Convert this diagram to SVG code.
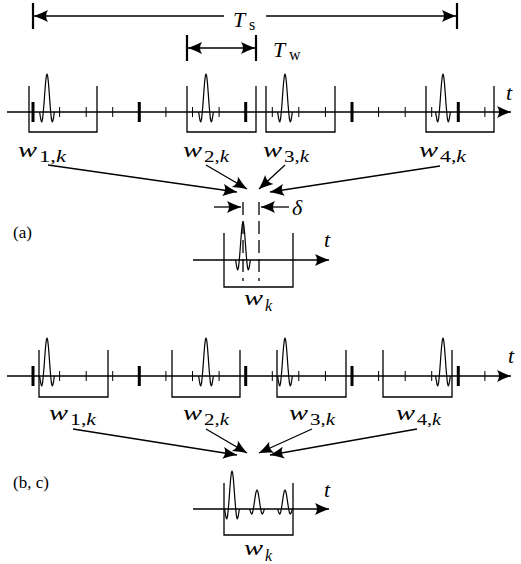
<svg xmlns="http://www.w3.org/2000/svg" width="521" height="564" viewBox="0 0 521 564">
<style>
.ln{stroke:#000;stroke-width:1.3;fill:none}
.tk{stroke:#000;stroke-width:1}
.tkb{stroke:#000;stroke-width:3}
.bar{stroke:#000;stroke-width:2.2}
.win{stroke:#000;stroke-width:1.3;fill:none}
.pl{stroke:#000;stroke-width:1.2;fill:none;stroke-linejoin:round}
.m{font-family:"Liberation Serif","DejaVu Serif",serif;font-style:italic;font-size:22px;fill:#000}
.sub{font-family:"Liberation Serif","DejaVu Serif",serif;font-size:16px;fill:#000}
.lbl{font-family:"Liberation Serif","DejaVu Serif",serif;font-size:17px;fill:#000}
.dash{stroke:#000;stroke-width:1.3;stroke-dasharray:13 6;fill:none}
</style>
<defs>
<marker id="ah" viewBox="-16 -8 18 16" markerWidth="18" markerHeight="16" refX="0" refY="0" orient="auto-start-reverse" markerUnits="userSpaceOnUse"><path d="M0,0 Q-7,-2.5 -14,-6 Q-10,0 -14,6 Q-7,2.5 0,0 Z" fill="#000"/></marker>
<path id="pulse" class="pl" d="M-7.4,0 L-6.66,4.7 L-5.92,8.6 L-5.18,9.9 L-4.44,7.1 L-3.7,0 L-2.96,-8.89 L-2.22,-19.17 L-1.48,-28.76 L-0.74,-35.55 L0,-38 L0.74,-35.55 L1.48,-28.76 L2.22,-19.17 L2.96,-8.89 L3.7,0 L4.44,7.1 L5.18,9.9 L5.92,8.6 L6.66,4.7 L7.4,0"/>
<path id="pulse-s" class="pl" d="M-7.4,0 L-6.66,2.4 L-5.92,4.3 L-5.18,5 L-4.44,3.6 L-3.7,0 L-2.96,-4.4 L-2.22,-9.6 L-1.48,-14.4 L-0.74,-17.8 L0,-19 L0.74,-17.8 L1.48,-14.4 L2.22,-9.6 L2.96,-4.4 L3.7,0 L4.44,3.6 L5.18,5 L5.92,4.3 L6.66,2.4 L7.4,0"/>
<g id="ticks">
<path class="tk" d="M59.6,-5V5M86.2,-5V5M112.7,-5V5M165.9,-5V5M192.5,-5V5M219.1,-5V5M272.3,-5V5M298.8,-5V5M325.4,-5V5M378.6,-5V5M405.2,-5V5M431.7,-5V5M484.9,-5V5"/>
<path class="tkb" d="M33,-10V10M139.3,-10V10M245.7,-10V10M352,-10V10M458.3,-10V10"/>
</g>
</defs>

<g id="dim-Ts">
<line class="bar" x1="33" y1="3" x2="33" y2="29"/>
<line class="bar" x1="457" y1="3" x2="457" y2="29"/>
<line class="ln" x1="224" y1="16" x2="34" y2="16" marker-end="url(#ah)"/>
<line class="ln" x1="266" y1="16" x2="456" y2="16" marker-end="url(#ah)"/>
<text class="m" x="233" y="27">T</text><text class="sub" x="249" y="30">s</text>
</g>

<g id="dim-Tw">
<line class="bar" x1="187" y1="35" x2="187" y2="61"/>
<line class="bar" x1="256" y1="35" x2="256" y2="61"/>
<line class="ln" x1="188" y1="48" x2="255" y2="48" marker-start="url(#ah)" marker-end="url(#ah)"/>
<text class="m" x="273" y="57">T</text><text class="sub" x="289" y="60">w</text>
</g>

<g id="timeline-a">
<line class="ln" x1="7" y1="112" x2="511" y2="112" marker-end="url(#ah)"/>
<use href="#ticks" y="112"/>
<text class="m" x="506" y="100">t</text>
</g>

<g id="window-a1">
<path class="win" d="M29,86V132H97V86"/>
<use href="#pulse" x="47" y="112"/>
<text class="m" x="18" y="157" textLength="19" lengthAdjust="spacingAndGlyphs">w</text><text class="sub" x="39" y="162" textLength="27" lengthAdjust="spacingAndGlyphs">1,<tspan font-style="italic">k</tspan></text>
</g>
<g id="window-a2">
<path class="win" d="M187,86V132H256V86"/>
<use href="#pulse" x="206" y="112"/>
<text class="m" x="183" y="157" textLength="19" lengthAdjust="spacingAndGlyphs">w</text><text class="sub" x="204" y="162" textLength="25" lengthAdjust="spacingAndGlyphs">2,<tspan font-style="italic">k</tspan></text>
</g>
<g id="window-a3">
<path class="win" d="M266,86V132H335V86"/>
<use href="#pulse" x="285" y="112"/>
<text class="m" x="263" y="157" textLength="19" lengthAdjust="spacingAndGlyphs">w</text><text class="sub" x="284" y="162" textLength="25" lengthAdjust="spacingAndGlyphs">3,<tspan font-style="italic">k</tspan></text>
</g>
<g id="window-a4">
<path class="win" d="M426,86V132H494V86"/>
<use href="#pulse" x="443" y="112"/>
<text class="m" x="419" y="157" textLength="19" lengthAdjust="spacingAndGlyphs">w</text><text class="sub" x="440" y="162" textLength="26" lengthAdjust="spacingAndGlyphs">4,<tspan font-style="italic">k</tspan></text>
</g>

<g id="label-a"><text class="lbl" x="13" y="238">(a)</text></g>

<g id="result-a">
<line class="ln" x1="193" y1="260" x2="329" y2="260" marker-end="url(#ah)"/>
<path class="win" d="M224,233V287H293V233"/>
<line class="dash" x1="243" y1="202" x2="243" y2="281"/>
<line class="dash" x1="259" y1="202" x2="259" y2="281"/>
<use href="#pulse" x="243" y="260"/>
<line class="ln" x1="214" y1="207" x2="241" y2="207" marker-end="url(#ah)"/>
<line class="ln" x1="289" y1="207" x2="261" y2="207" marker-end="url(#ah)"/>
<text class="m" x="292" y="215">δ</text>
<text class="m" x="324" y="247">t</text>
<text class="m" x="244" y="305" textLength="19" lengthAdjust="spacingAndGlyphs">w</text><text class="sub" x="265" y="311" font-style="italic">k</text>
</g>

<g id="timeline-b">
<line class="ln" x1="7" y1="376" x2="511" y2="376" marker-end="url(#ah)"/>
<use href="#ticks" y="376"/>
<text class="m" x="508" y="363">t</text>
</g>

<g id="window-b1">
<path class="win" d="M39,350V397H108V350"/>
<use href="#pulse" x="47" y="376"/>
<text class="m" x="49" y="420" textLength="19" lengthAdjust="spacingAndGlyphs">w</text><text class="sub" x="70" y="425" textLength="26" lengthAdjust="spacingAndGlyphs">1,<tspan font-style="italic">k</tspan></text>
</g>
<g id="window-b2">
<path class="win" d="M172,350V397H240V350"/>
<use href="#pulse" x="206" y="376"/>
<text class="m" x="183" y="420" textLength="19" lengthAdjust="spacingAndGlyphs">w</text><text class="sub" x="204" y="425" textLength="25" lengthAdjust="spacingAndGlyphs">2,<tspan font-style="italic">k</tspan></text>
</g>
<g id="window-b3">
<path class="win" d="M277,350V397H346V350"/>
<use href="#pulse" x="285" y="376"/>
<text class="m" x="289" y="420" textLength="19" lengthAdjust="spacingAndGlyphs">w</text><text class="sub" x="310" y="425" textLength="25" lengthAdjust="spacingAndGlyphs">3,<tspan font-style="italic">k</tspan></text>
</g>
<g id="window-b4">
<path class="win" d="M383,350V397H452V350"/>
<use href="#pulse" x="443" y="376"/>
<text class="m" x="396" y="420" textLength="19" lengthAdjust="spacingAndGlyphs">w</text><text class="sub" x="417" y="425" textLength="24" lengthAdjust="spacingAndGlyphs">4,<tspan font-style="italic">k</tspan></text>
</g>

<g id="label-b"><text class="lbl" x="13" y="488">(b, c)</text></g>

<g id="result-b">
<line class="ln" x1="193" y1="509" x2="329" y2="509" marker-end="url(#ah)"/>
<path class="win" d="M224,483V535H293V483"/>
<use href="#pulse" x="232" y="509"/>
<use href="#pulse-s" x="257" y="509"/>
<use href="#pulse-s" x="285" y="509"/>
<text class="m" x="324" y="497">t</text>
<text class="m" x="244" y="555" textLength="19" lengthAdjust="spacingAndGlyphs">w</text><text class="sub" x="265" y="561" font-style="italic">k</text>
</g>

<g id="connectors">
<line class="ln" x1="48" y1="165" x2="237" y2="192" marker-end="url(#ah)"/>
<line class="ln" x1="206" y1="165" x2="247" y2="189" marker-end="url(#ah)"/>
<line class="ln" x1="285" y1="165" x2="259" y2="189" marker-end="url(#ah)"/>
<line class="ln" x1="440" y1="166" x2="270" y2="192" marker-end="url(#ah)"/>
<line class="ln" x1="73" y1="429" x2="237" y2="455" marker-end="url(#ah)"/>
<line class="ln" x1="206" y1="429" x2="247" y2="453" marker-end="url(#ah)"/>
<line class="ln" x1="312" y1="429" x2="259" y2="453" marker-end="url(#ah)"/>
<line class="ln" x1="417" y1="429" x2="270" y2="455" marker-end="url(#ah)"/>
</g>
</svg>
